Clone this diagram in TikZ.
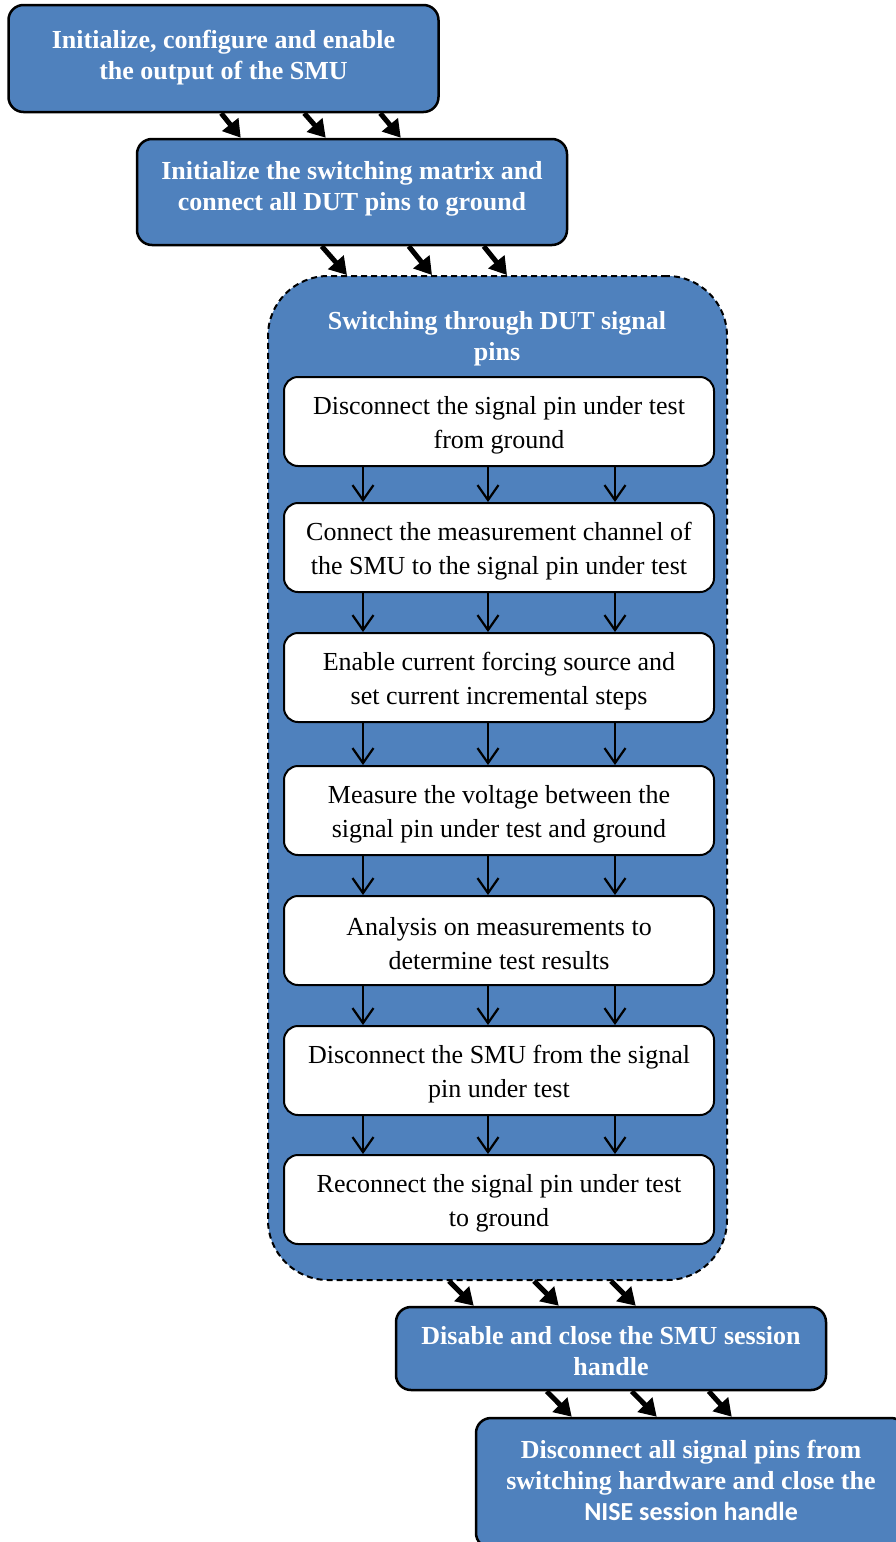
\documentclass[tikz,border=0pt]{standalone}
\usepackage{fontspec}
\setmainfont{Liberation Serif}
\newfontfamily\calibrib[BoldFont={Carlito Bold}]{Carlito}
\usetikzlibrary{arrows.meta}
\definecolor{stepblue}{HTML}{4F81BD}
\tikzset{
  x=1pt, y=-1pt,
  bluebox/.style={draw=black, line width=2.5pt, fill=stepblue, rounded corners=15pt,
    minimum width=430pt, inner sep=0pt},
  bluetext/.style={align=center, text=white, inner sep=0pt,
    font=\bfseries\fontsize{26}{31}\selectfont},
  whitebox/.style={draw=black, line width=2pt, fill=white, rounded corners=14pt,
    minimum width=430pt, minimum height=89pt, inner sep=0pt},
  whitetext/.style={align=center, inner sep=0pt, font=\fontsize{26}{34}\selectfont},
  group/.style={draw=black, line width=2pt, dashed, dash pattern=on 6pt off 4pt,
    fill=stepblue, rounded corners=60pt, minimum width=459pt, minimum height=1004pt,
    inner sep=0pt},
  fat/.style={line width=5pt, -{Triangle[length=17pt,width=20pt]}},
  thin/.style={line width=2.2pt, -{Straight Barb[length=15pt,width=21pt,line width=2.2pt]}},
}
\begin{document}
\begin{tikzpicture}
\clip (0,0) rectangle (896,1542);
\fill[white] (0,0) rectangle (896,1542);

% outer steps
\node[bluebox, minimum height=107pt] (b1) at (223.5,58.5) {};
\node[bluetext] (b1t) at ([yshift=1pt]b1.center)
  {Initialize, configure and enable\\the output of the SMU};
\node[bluebox, minimum height=106pt] (b2) at (352,192) {};
\node[bluetext] (b2t) at ([yshift=3pt]b2.center)
  {Initialize the switching matrix and\\connect all DUT pins to ground};

% loop over the signal pins
\node[group] (loop) at (497.5,778) {};
\node[bluetext] (title) at (497,339) {Switching through DUT signal\\pins};

\foreach \n/\cy/\txt in {
    s1/421.5/{Disconnect the signal pin under test\\from ground},
    s2/547.5/{Connect the measurement channel of\\the SMU to the signal pin under test},
    s3/677.5/{Enable current forcing source and\\set current incremental steps},
    s4/810.5/{Measure the voltage between the\\signal pin under test and ground},
    s5/940.5/{Analysis on measurements to\\determine test results},
    s6/1070.5/{Disconnect the SMU from the signal\\pin under test},
    s7/1199.5/{Reconnect the signal pin under test\\to ground}} {
  \node[whitebox] (\n) at (499,\cy) {};
  \node[whitetext] (\n t) at ([yshift=-3.5pt]\n.center) {\txt};
}

\node[bluebox, minimum height=83pt] (b8) at (611,1348.5) {};
\node[bluetext] (b8t) at ([yshift=-3pt]b8.center) {Disable and close the SMU session\\handle};
\node[bluebox, minimum height=130pt] (b9) at (691,1483) {};
\node[bluetext] (b9t) at ([yshift=3pt]b9.center)
  {Disconnect all signal pins from\\switching hardware and close the\\{\calibrib NISE session handle}};

% thick connectors between the outer steps
\foreach \a/\b in {214/105, 297/190, 373/265}
  \draw[fat] ([xshift=\a pt]b1.south west) -- ([xshift=\b pt]b2.north west);
\foreach \a/\b in {186/80, 273/165, 348/240}
  \draw[fat] ([xshift=\a pt]b2.south west) -- ([xshift=\b pt]loop.north west);
\foreach \a/\b in {182/79, 267/164, 344/241}
  \draw[fat] ([xshift=\a pt]loop.south west) -- ([xshift=\b pt]b8.north west);
\foreach \a/\b in {152/97, 237/182, 314/257}
  \draw[fat] ([xshift=\a pt]b8.south west) -- ([xshift=\b pt]b9.north west);

% thin connectors inside the loop
\foreach \u/\v in {s1/s2, s2/s3, s3/s4, s4/s5, s5/s6, s6/s7}
  \foreach \dx in {-136, -11, 116}
    \draw[thin] ([xshift=\dx pt]\u.south) -- ([xshift=\dx pt]\v.north);
\end{tikzpicture}
\end{document}
